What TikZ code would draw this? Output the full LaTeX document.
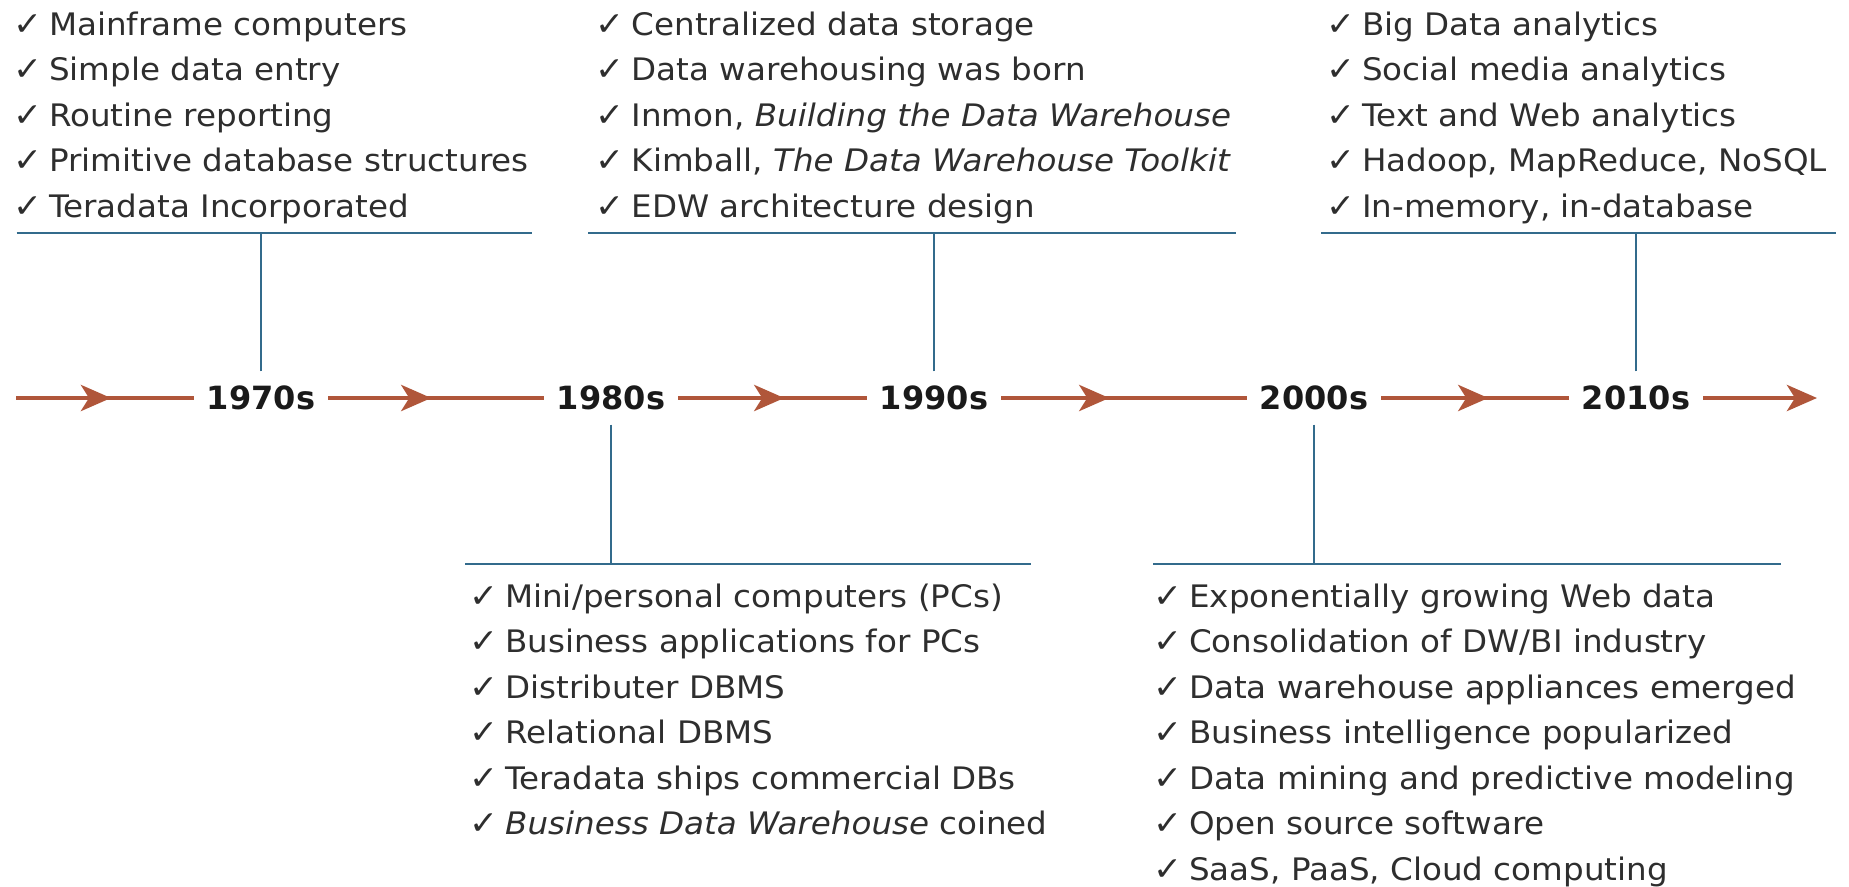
\documentclass[tikz,border=0pt]{standalone}
\usepackage{fontspec}
\setmainfont{DejaVu Sans}[FakeStretch=1.05]
\newfontfamily\yearfont{DejaVu Sans}
\usetikzlibrary{arrows.meta,decorations.markings}

\definecolor{flowline}{HTML}{B0563A}
\definecolor{barblue}{HTML}{336B8C}
\definecolor{ink}{HTML}{2E2E2E}
\definecolor{yearink}{HTML}{1A1A1A}

% check mark followed by a fixed gap before the item text
\newcommand\chk{\makebox[36pt][l]{\fontsize{33}{33}\selectfont ✓}}

\tikzset{
  year/.style={font=\yearfont\bfseries\fontsize{32}{32}\selectfont, text=yearink,
    text height=23.3pt, text depth=0pt, inner xsep=13pt, inner ysep=14.8pt},
  item/.style={anchor=base west, inner sep=0pt, text=ink,
    font=\fontsize{31}{45.5}\selectfont},
  barline/.style={draw=barblue, line width=2.6pt},
  flow/.style={draw=flowline, line width=4.6pt},
  midarrow/.style={postaction={decorate}, decoration={markings,
    mark=at position #1 with {\arrow{Stealth[length=30pt,width=26pt,inset=8pt]}}}},
}

\begin{document}
\begin{tikzpicture}[x=1pt,y=-1pt]
\useasboundingbox[fill=white] (0,0) rectangle (1849,886);
\clip (0,0) rectangle (1849,886);

% decade labels on the time axis
\node[year] (y70) at (261,398)  {1970s};
\node[year] (y80) at (611,398)  {1980s};
\node[year] (y90) at (934,398)  {1990s};
\node[year] (y00) at (1314,398) {2000s};
\node[year] (y10) at (1636,398) {2010s};

\coordinate (axisstart) at (16,398);
\coordinate (axisend)   at (1817,398);

% time axis with arrow heads
\draw[flow, midarrow=95pt]  (axisstart) -- (y70.west);
\draw[flow, midarrow=103pt] (y70.east) -- (y80.west);
\draw[flow, midarrow=106pt] (y80.east) -- (y90.west);
\draw[flow, midarrow=108pt] (y90.east) -- (y00.west);
\draw[flow, midarrow=107pt] (y00.east) -- (y10.west);
\draw[flow, -{Stealth[length=30pt,width=26pt,inset=8pt]}] (y10.east) -- (axisend);

% brackets above the axis
\coordinate (t70) at (261,233);   \coordinate (t70l) at (16.5,233);  \coordinate (t70r) at (532,233);
\coordinate (t90) at (934,233);   \coordinate (t90l) at (588,233);   \coordinate (t90r) at (1236,233);
\coordinate (t10) at (1636,233);  \coordinate (t10l) at (1321,233);  \coordinate (t10r) at (1836,233);
\draw[barline] (t70l) -- (t70r);  \draw[barline] (y70.north) -- (t70);
\draw[barline] (t90l) -- (t90r);  \draw[barline] (y90.north) -- (t90);
\draw[barline] (t10l) -- (t10r);  \draw[barline] (y10.north) -- (t10);

% brackets below the axis
\coordinate (b80) at (611,564);   \coordinate (b80l) at (465,564);   \coordinate (b80r) at (1031,564);
\coordinate (b00) at (1314,564);  \coordinate (b00l) at (1153,564);  \coordinate (b00r) at (1781,564);
\draw[barline] (b80l) -- (b80r);  \draw[barline] (y80.south) -- (b80);
\draw[barline] (b00l) -- (b00r);  \draw[barline] (y00.south) -- (b00);

% 1970s
\foreach \t [count=\i from 0] in {
  {Mainframe computers},
  {Simple data entry},
  {Routine reporting},
  {Primitive database structures},
  {Teradata Incorporated}}
  \node[item] (i70-\i) at (13,{35+45.5*\i}) {\chk\t};

% 1990s
\foreach \t [count=\i from 0] in {
  {Centralized data storage},
  {Data warehousing was born},
  {Inmon, \textit{Building the Data Warehouse}},
  {Kimball, \textit{The Data Warehouse Toolkit}},
  {EDW architecture design}}
  \node[item] (i90-\i) at (595.5,{35+45.5*\i}) {\chk\t};

% 2010s
\foreach \t [count=\i from 0] in {
  {Big Data analytics},
  {Social media analytics},
  {Text and Web analytics},
  {Hadoop, MapReduce, NoSQL},
  {In-memory, in-database}}
  \node[item] (i10-\i) at (1326,{35+45.5*\i}) {\chk\t};

% 1980s
\foreach \t [count=\i from 0] in {
  {Mini/personal computers (PCs)},
  {Business applications for PCs},
  {Distributer DBMS},
  {Relational DBMS},
  {Teradata ships commercial DBs},
  {\textit{Business Data Warehouse} coined}}
  \node[item] (i80-\i) at (469,{607+45.5*\i}) {\chk\t};

% 2000s
\foreach \t [count=\i from 0] in {
  {Exponentially growing Web data},
  {Consolidation of DW/BI industry},
  {Data warehouse appliances emerged},
  {Business intelligence popularized},
  {Data mining and predictive modeling},
  {Open source software},
  {SaaS, PaaS, Cloud computing}}
  \node[item] (i00-\i) at (1153,{607+45.5*\i}) {\chk\t};
\end{tikzpicture}
\end{document}
